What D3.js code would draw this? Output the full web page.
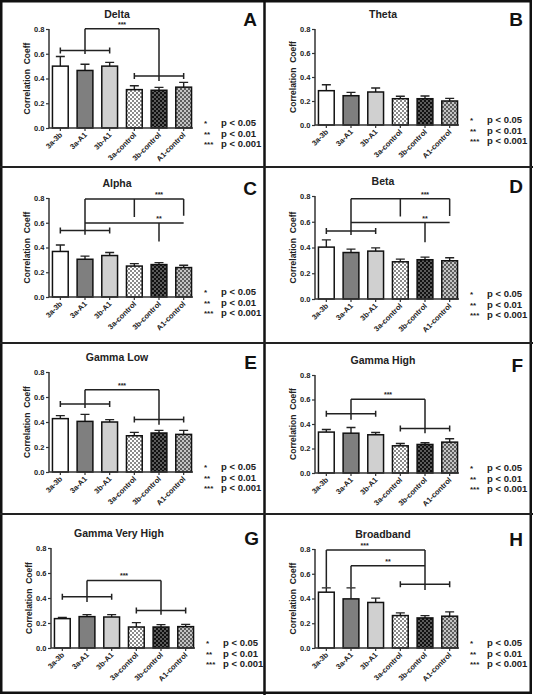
<!DOCTYPE html>
<html><head><meta charset="utf-8">
<script src="https://cdn.jsdelivr.net/npm/d3@7"></script>
<style>
html,body{margin:0;padding:0;background:#fff;}
svg{display:block;font-family:"Liberation Sans",Arial,sans-serif;}
</style></head>
<body><svg id="chart" width="533" height="695"></svg>
<script>
// ---------------- DATA ----------------
const categories = ["3a-3b","3a-A1","3b-A1","3a-control","3b-control","A1-control"];
const panelTitles = ["Delta","Theta","Alpha","Beta","Gamma Low","Gamma High","Gamma Very High","Broadband"];
const panelLetters = ["A","B","C","D","E","F","G","H"];
const yTicks = [0,0.2,0.4,0.6,0.8];
const yLabel = "Correlation  Coeff";
const legendStars = ["*","**","***"];
const legendTexts = ["p < 0.05","p < 0.01","p < 0.001"];

const meanDelta = [0.50,0.465,0.50,0.31,0.305,0.33];
const semDelta  = [0.078,0.05,0.03,0.032,0.023,0.039];
const meanTheta = [0.286,0.244,0.275,0.219,0.219,0.20];
const semTheta  = [0.05,0.028,0.033,0.02,0.023,0.022];
const meanAlpha = [0.368,0.305,0.335,0.25,0.262,0.238];
const semAlpha  = [0.052,0.025,0.025,0.02,0.016,0.019];
const meanBeta  = [0.403,0.361,0.372,0.289,0.305,0.297];
const semBeta   = [0.056,0.026,0.025,0.021,0.02,0.023];
const meanGammaLow = [0.427,0.405,0.40,0.29,0.312,0.301];
const semGammaLow  = [0.024,0.056,0.019,0.027,0.021,0.032];
const meanGammaHigh = [0.334,0.325,0.312,0.222,0.233,0.252];
const semGammaHigh  = [0.021,0.047,0.019,0.019,0.014,0.027];
const meanGammaVeryHigh = [0.235,0.251,0.248,0.168,0.168,0.171];
const semGammaVeryHigh  = [0.01,0.016,0.019,0.035,0.019,0.018];
const meanBroadband = [0.451,0.397,0.368,0.262,0.243,0.257];
const semBroadband  = [0.035,0.089,0.035,0.022,0.019,0.035];

// group brackets: [fromBar, toBar, yValue]
const groupsDelta = [[0,2,0.626],[3,5,0.42]];
const groupsTheta = [];
const groupsAlpha = [[0,2,0.538]];
const groupsBeta  = [[0,2,0.529]];
const groupsGammaLow = [[0,2,0.544],[3,5,0.421]];
const groupsGammaHigh = [[0,2,0.483],[3,5,0.363]];
const groupsGammaVeryHigh = [[0,2,0.41],[3,5,0.301]];
const groupsBroadband = [[3,5,0.516]];

// significance connectors
const sigDelta = [{label:"***", y:0.803, from:1, to:4, labelAt:2.5, drops:[[1,0.597],[4,0.38]]}];
const sigTheta = [];
const sigAlpha = [
  {label:"***", y:0.792, from:1, to:5, labelAt:4, drops:[[1,0.503],[3,0.646],[5,0.657]]},
  {label:"**",  y:0.597, from:1, to:5, labelAt:4, drops:[[4,0.449]]}];
const sigBeta = [
  {label:"***", y:0.779, from:1, to:5, labelAt:4, drops:[[1,0.498],[3,0.64],[5,0.645]]},
  {label:"**",  y:0.594, from:1, to:5, labelAt:4, drops:[[4,0.44]]}];
const sigGammaLow = [{label:"***", y:0.659, from:1, to:4, labelAt:2.5, drops:[[1,0.512],[4,0.379]]}];
const sigGammaHigh = [{label:"***", y:0.602, from:1, to:4, labelAt:2.5, drops:[[1,0.434],[4,0.325]]}];
const sigGammaVeryHigh = [{label:"***", y:0.541, from:1, to:4, labelAt:2.5, drops:[[1,0.368],[4,0.267]]}];
const sigBroadband = [
  {label:"***", y:0.792, from:0, to:4, labelAt:1.55, drops:[[0,0.489],[4,0.468]]},
  {label:"**",  y:0.665, from:1, to:4, labelAt:2.5, drops:[[1,0.489]]}];

const means = [meanDelta,meanTheta,meanAlpha,meanBeta,meanGammaLow,meanGammaHigh,meanGammaVeryHigh,meanBroadband];
const sems  = [semDelta,semTheta,semAlpha,semBeta,semGammaLow,semGammaHigh,semGammaVeryHigh,semBroadband];
const groups = [groupsDelta,groupsTheta,groupsAlpha,groupsBeta,groupsGammaLow,groupsGammaHigh,groupsGammaVeryHigh,groupsBroadband];
const sigs = [sigDelta,sigTheta,sigAlpha,sigBeta,sigGammaLow,sigGammaHigh,sigGammaVeryHigh,sigBroadband];

// ---------------- LAYOUT ----------------
const layout = [
  {ox:0,   y8:29,  y0:128},
  {ox:266, y8:29,  y0:125},
  {ox:0,   y8:198, y0:297},
  {ox:266, y8:196, y0:299},
  {ox:0,   y8:372, y0:472},
  {ox:266, y8:375, y0:473},
  {ox:2,   y8:548, y0:648},
  {ox:266, y8:549, y0:648}
];
const fills = ["#ffffff","#7f7f7f","#d0d0d0","url(#chkLight)","url(#chkDark)","url(#chkMid)"];
const FONT = '"Liberation Sans",Arial,sans-serif';
const INK = "#222";

const svg = d3.select("#chart");
const defs = svg.append("defs");
function checker(id, c1, c2){
  const p = defs.append("pattern").attr("id",id).attr("width",4).attr("height",4)
    .attr("patternUnits","userSpaceOnUse");
  p.append("rect").attr("width",4).attr("height",4).attr("fill",c1);
  p.append("rect").attr("width",2).attr("height",2).attr("fill",c2);
  p.append("rect").attr("x",2).attr("y",2).attr("width",2).attr("height",2).attr("fill",c2);
}
checker("chkLight","#ffffff","#8a8a8a");
checker("chkDark","#5a5a5a","#111111");
checker("chkMid","#c4c4c4","#5e5e5e");

svg.append("rect").attr("width",533).attr("height",695).attr("fill","#fff");

panelTitles.forEach((title,i)=>{
  const L = layout[i];
  const g = svg.append("g");
  const x = d3.scaleBand().domain(categories).range([L.ox+48, L.ox+196]).paddingInner(0.3).paddingOuter(0.15);
  const y = d3.scaleLinear().domain([0,0.8]).range([L.y0, L.y8]);
  const cx = k => x(categories[0]) + x.bandwidth()/2 + k*x.step();
  const data = categories.map((c,k)=>({c, m:means[i][k], s:sems[i][k], k}));

  // error bars
  g.selectAll(".eb").data(data).join("path")
    .attr("d", d=>{
      const xc = x(d.c)+x.bandwidth()/2, yt = y(d.m+d.s);
      return `M${xc},${y(d.m)}V${yt}M${xc-4.5},${yt}H${xc+4.5}`;
    })
    .attr("stroke",INK).attr("stroke-width",1.4).attr("fill","none");

  // bars
  g.selectAll(".bar").data(data).join("rect")
    .attr("x", d=>x(d.c)+0.75).attr("width", x.bandwidth()-1.5)
    .attr("y", d=>y(d.m)).attr("height", d=>y(0)-y(d.m))
    .attr("fill", d=>fills[d.k]).attr("stroke","#111").attr("stroke-width",1.5);

  // axes
  const ya = g.append("g").attr("transform",`translate(${L.ox+49},0)`)
    .call(d3.axisLeft(y).tickValues(yTicks).tickFormat(d3.format(".1f")).tickSize(3).tickSizeOuter(0));
  const xa = g.append("g").attr("transform",`translate(0,${L.y0})`)
    .call(d3.axisBottom(x).tickSize(3).tickSizeOuter(0));
  [ya,xa].forEach(a=>{
    a.select(".domain").attr("stroke","#333").attr("stroke-width",1.5);
    a.selectAll(".tick line").attr("stroke","#333").attr("stroke-width",1.2);
    a.selectAll("text").attr("fill",INK).style("font-family",FONT).style("font-weight","bold").style("font-size","7.5px");
  });
  ya.select(".domain").attr("d",`M0,${L.y0}V${L.y8}`);
  xa.select(".domain").attr("d",`M${L.ox+49},0H${L.ox+193}`);
  ya.selectAll(".tick text").attr("x",-4.5);
  xa.selectAll(".tick text")
    .attr("text-anchor","end").attr("dy",null).attr("y",0)
    .attr("transform","translate(1,6) rotate(-45)")
    .attr("dominant-baseline","middle");

  // y label
  g.append("text").attr("transform",`translate(${L.ox+30},${(L.y0+L.y8)/2}) rotate(-90)`)
    .attr("text-anchor","middle").attr("fill",INK)
    .style("font-family",FONT).style("font-weight","bold").style("font-size","8.5px")
    .style("white-space","pre").attr("xml:space","preserve").text(yLabel);

  // title
  g.append("text").attr("x",L.ox+117).attr("y",L.y8-11).attr("text-anchor","middle").attr("fill",INK)
    .style("font-family",FONT).style("font-weight","bold").style("font-size","10.5px").text(title);

  // panel letter
  g.append("text").attr("x",L.ox+257).attr("y",L.y8-3).attr("text-anchor","end").attr("fill","#111")
    .style("font-family",FONT).style("font-weight","bold").style("font-size","19px").text(panelLetters[i]);

  // legend
  legendTexts.forEach((t,j)=>{
    const by = L.y0 - 2 + j*10.5;
    g.append("text").attr("x",L.ox+204).attr("y",by).attr("fill",INK)
      .style("font-family",FONT).style("font-weight","bold").style("font-size","8px").text(legendStars[j]);
    g.append("text").attr("x",L.ox+221).attr("y",by).attr("fill",INK)
      .style("font-family",FONT).style("font-weight","bold").style("font-size","9.5px").text(t);
  });

  // group brackets
  groups[i].forEach(([a,b,v])=>{
    const yy = y(v);
    g.append("path").attr("d",`M${cx(a)},${yy}H${cx(b)}M${cx(a)},${yy-3}V${yy+3}M${cx(b)},${yy-3}V${yy+3}`)
      .attr("stroke","#222").attr("stroke-width",1.5).attr("fill","none");
  });
  // significance connectors
  sigs[i].forEach(s=>{
    let d = `M${cx(s.from)},${y(s.y)}H${cx(s.to)}`;
    s.drops.forEach(([k,v])=>{ d += `M${cx(k)},${y(s.y)}V${y(v)}`; });
    g.append("path").attr("d",d).attr("stroke","#222").attr("stroke-width",1.5).attr("fill","none");
    g.append("text").attr("x",cx(s.labelAt)).attr("y",y(s.y)-2).attr("text-anchor","middle").attr("fill",INK)
      .style("font-family",FONT).style("font-weight","bold").style("font-size","7px").text(s.label);
  });
});

// frame and dividers
const frame = svg.append("g").attr("fill","none").attr("stroke","#111");
frame.append("rect").attr("x",1.25).attr("y",1.25).attr("width",529.5).attr("height",691.5).attr("stroke-width",2.5);
frame.append("line").attr("x1",264.5).attr("x2",264.5).attr("y1",0).attr("y2",695).attr("stroke-width",2.5);
[167,343,514].forEach(yv=>{
  frame.append("line").attr("x1",0).attr("x2",533).attr("y1",yv).attr("y2",yv).attr("stroke-width",2.2).attr("stroke","#222");
});
</script></body></html>
